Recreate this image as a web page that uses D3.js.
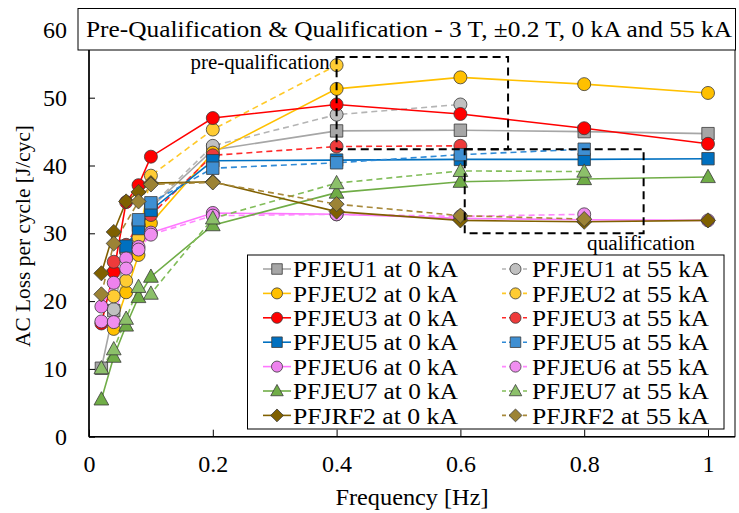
<!DOCTYPE html>
<html><head><meta charset="utf-8">
<script src="https://cdn.jsdelivr.net/npm/d3@7"></script>
<style>
body{margin:0;background:#fff}
svg{display:block}
</style>
</head><body>
<svg id="c" width="739" height="513" font-family="Liberation Serif"></svg>
<script>
// ---- data ----
const freq = [0.02, 0.04, 0.06, 0.08, 0.1, 0.2, 0.4, 0.6, 0.8, 1];
const pfjeu1_0  = [10.1, 18.6, 27.8, 31.2, 33.8, 42.3, 45.1, 45.2, 45.0, 44.7];
const pfjeu1_55 = [null, 18.8, 27.5, 31.5, 34.0, 42.9, 47.5, 49.0, null, null];
const pfjeu2_0  = [null, 15.9, 21.3, 26.8, 31.5, 41.9, 51.3, 53.0, 52.0, 50.7];
const pfjeu2_55 = [null, 20.7, 23.0, 29.4, 38.5, 45.3, 54.8, null, null, null];
const pfjeu3_0  = [16.7, 24.3, 34.6, 37.1, 41.3, 47.0, 49.0, 47.6, 45.5, 43.2];
const pfjeu3_55 = [null, 25.8, 28.3, 31.3, 32.7, 41.5, 42.8, 42.9, null, null];
const pfjeu5_0  = [null, null, 28.1, 30.7, 33.4, 40.7, 40.8, 40.9, 40.9, 41.0];
const pfjeu5_55 = [null, null, null, 32.0, 34.5, 39.6, 40.4, 41.6, 42.4, null];
const pfjeu6_0  = [19.2, 22.7, 26.3, 28.0, 30.1, 33.0, 32.8, 32.2, 32.0, 31.9];
const pfjeu6_55 = [17.0, 16.9, 24.8, 27.6, 29.8, 32.6, 32.8, 32.5, 32.8, null];
const pfjeu7_0  = [5.5, 11.8, 16.4, 20.6, 23.6, 31.2, 36.0, 37.6, 38.0, 38.3];
const pfjeu7_55 = [10.1, 12.9, 17.4, 22.1, 21.1, 32.2, 37.4, 39.2, 39.1, null];
const pfjrf2_0  = [24.1, 30.2, 34.7, 36.1, 37.4, 37.6, 33.2, 31.9, 31.7, 31.9];
const pfjrf2_55 = [21.0, 28.5, null, 34.7, 37.2, 37.5, 34.3, 32.6, 32.1, null];

const seriesNames = ["PFJEU1 at 0 kA","PFJEU1 at 55 kA","PFJEU2 at 0 kA","PFJEU2 at 55 kA",
  "PFJEU3 at 0 kA","PFJEU3 at 55 kA","PFJEU5 at 0 kA","PFJEU5 at 55 kA",
  "PFJEU6 at 0 kA","PFJEU6 at 55 kA","PFJEU7 at 0 kA","PFJEU7 at 55 kA",
  "PFJRF2 at 0 kA","PFJRF2 at 55 kA"];
const seriesValues = [pfjeu1_0,pfjeu1_55,pfjeu2_0,pfjeu2_55,pfjeu3_0,pfjeu3_55,pfjeu5_0,pfjeu5_55,
  pfjeu6_0,pfjeu6_55,pfjeu7_0,pfjeu7_55,pfjrf2_0,pfjrf2_55];
const xTicks = [0, 0.2, 0.4, 0.6, 0.8, 1];
const xTickLabels = ["0","0.2","0.4","0.6","0.8","1"];
const yTicks = [0, 10, 20, 30, 40, 50, 60];
const titleText = "Pre-Qualification & Qualification  - 3 T, \u00B10.2 T, 0 kA and 55 kA";
const xTitle = "Frequency [Hz]";
const yTitle = "AC Loss per cycle [J/cyc]";
const preQualBox = {x0: 0.4, x1: 0.677, y0: 42.4, y1: 56};
const qualBox = {x0: 0.607, x1: 0.896, y0: 30.0, y1: 42.4};

// ---- styles ----
const FONT = "Liberation Serif";
const styles = [
  {shape:"square",  fill:"#a6a6a6", line:"#a6a6a6", dash:false},
  {shape:"circle",  fill:"#c0c0c0", line:"#b4b4b4", dash:true},
  {shape:"circle",  fill:"#ffc000", line:"#ffc000", dash:false},
  {shape:"circle",  fill:"#ffcc33", line:"#ffc929", dash:true},
  {shape:"circle",  fill:"#ff0000", line:"#ff0000", dash:false},
  {shape:"circle",  fill:"#ee3b3b", line:"#ff2a2a", dash:true},
  {shape:"square",  fill:"#0070c0", line:"#0070c0", dash:false},
  {shape:"square",  fill:"#3f8fd2", line:"#2f8ad6", dash:true},
  {shape:"circle",  fill:"#ee82ee", line:"#ff77ff", dash:false},
  {shape:"circle",  fill:"#f08ef0", line:"#ff88ff", dash:true},
  {shape:"triangle",fill:"#70ad47", line:"#70ad47", dash:false},
  {shape:"triangle",fill:"#8cc06a", line:"#82bd5a", dash:true},
  {shape:"diamond", fill:"#7f6000", line:"#806000", dash:false},
  {shape:"diamond", fill:"#9c8335", line:"#a8893a", dash:true}
];

const svg = d3.select("#c");
const x = d3.scaleLinear().domain([0, 1]).range([89, 708]);
const y = d3.scaleLinear().domain([0, 60]).range([436.7, 29.9]);
const xRight = 735;

function markerPath(shape, r) {
  const p = d3.path();
  if (shape === "circle") { p.arc(0, 0, r, 0, 2*Math.PI); }
  else if (shape === "square") { p.rect(-r, -r, 2*r, 2*r); }
  else if (shape === "triangle") {
    const h = r*1.9;
    p.moveTo(0, -h*0.58); p.lineTo(r*1.05, h*0.42); p.lineTo(-r*1.05, h*0.42); p.closePath();
  } else if (shape === "diamond") {
    const d = r*1.08;
    p.moveTo(0, -d); p.lineTo(d, 0); p.lineTo(0, d); p.lineTo(-d, 0); p.closePath();
  }
  return p.toString();
}
const markerR = {circle: 6.5, square: 6.2, triangle: 7, diamond: 7};

// plot frame
svg.append("rect").attr("x", x(0)).attr("y", y(60)).attr("width", xRight - x(0)).attr("height", y(0) - y(60))
  .attr("fill", "none").attr("stroke", "#000").attr("stroke-width", 1);

// lines
const lineGen = d3.line().x(d => x(d[0])).y(d => y(d[1]));
const gLines = svg.append("g");
const gMarks = svg.append("g");
seriesValues.forEach((vals, i) => {
  const st = styles[i];
  const pts = freq.map((f, j) => [f, vals[j]]).filter(d => d[1] !== null);
  gLines.append("path").datum(pts).attr("d", lineGen).attr("fill", "none")
    .attr("stroke", st.line).attr("stroke-width", 1.6)
    .attr("stroke-dasharray", st.dash ? "6,4" : null);
});
seriesValues.forEach((vals, i) => {
  const st = styles[i];
  const pts = freq.map((f, j) => [f, vals[j]]).filter(d => d[1] !== null);
  gMarks.selectAll(null).data(pts).enter().append("path")
    .attr("transform", d => `translate(${x(d[0])},${y(d[1])})`)
    .attr("d", markerPath(st.shape, markerR[st.shape]))
    .attr("fill", st.fill).attr("stroke", "#3a3a3a").attr("stroke-width", 0.8);
});

// dashed boxes
[preQualBox, qualBox].forEach(b => {
  svg.append("rect").attr("x", x(b.x0)).attr("y", y(b.y1))
    .attr("width", x(b.x1) - x(b.x0)).attr("height", y(b.y0) - y(b.y1))
    .attr("fill", "none").attr("stroke", "#000").attr("stroke-width", 2)
    .attr("stroke-dasharray", "8,5");
});
svg.append("text").attr("font-family", FONT).attr("x", x(0.4) - 7).attr("y", 69).attr("text-anchor", "end")
  .attr("font-size", 20).attr("textLength", 139).attr("lengthAdjust", "spacingAndGlyphs")
  .text("pre-qualification");
svg.append("text").attr("font-family", FONT).attr("x", 587).attr("y", 250)
  .attr("font-size", 20).attr("textLength", 108).attr("lengthAdjust", "spacingAndGlyphs")
  .text("qualification");

// axes
const xAxis = d3.axisBottom(x).tickValues(xTicks).tickSize(-7).tickFormat((d, i) => xTickLabels[i]).tickPadding(18);
const gx = svg.append("g").attr("transform", `translate(0,${y(0)})`).call(xAxis);
gx.attr("font-family", FONT);
gx.select(".domain").remove();
gx.selectAll(".tick line").attr("stroke", "#000").attr("stroke-width", 1);
gx.selectAll("text").attr("font-family", FONT).attr("font-size", 24).attr("fill", "#000").attr("dy", "0.71em");

const yAxis = d3.axisLeft(y).tickValues(yTicks).tickSize(-6).tickPadding(22);
const gy = svg.append("g").attr("transform", `translate(${x(0)},0)`).call(yAxis);
gy.attr("font-family", FONT);
gy.select(".domain").remove();
gy.selectAll(".tick line").attr("stroke", "#000").attr("stroke-width", 1);
gy.selectAll("text").attr("font-family", FONT).attr("font-size", 24).attr("fill", "#000");

svg.append("line").attr("x1", x(0)).attr("x2", xRight).attr("y1", y(0)).attr("y2", y(0))
  .attr("stroke", "#000").attr("stroke-width", 1.5);
svg.append("line").attr("x1", x(0)).attr("x2", x(0)).attr("y1", y(0)).attr("y2", y(60))
  .attr("stroke", "#000").attr("stroke-width", 1.5);

// axis titles
svg.append("text").attr("font-family", FONT).attr("x", 412).attr("y", 505).attr("text-anchor", "middle")
  .attr("font-size", 24).attr("textLength", 153).attr("lengthAdjust", "spacingAndGlyphs").text(xTitle);
svg.append("text").attr("font-family", FONT).attr("transform", "translate(30,236) rotate(-90)").attr("text-anchor", "middle")
  .attr("font-size", 22).attr("textLength", 222).attr("lengthAdjust", "spacingAndGlyphs").text(yTitle);

// title box
svg.append("rect").attr("x", 78).attr("y", 8.5).attr("width", 657.5).attr("height", 41.5)
  .attr("fill", "#fff").attr("stroke", "#000").attr("stroke-width", 1);
svg.append("text").attr("font-family", FONT).attr("x", 409).attr("y", 37).attr("text-anchor", "middle")
  .attr("font-size", 23).attr("textLength", 646).attr("lengthAdjust", "spacingAndGlyphs").text(titleText);

// legend
const leg = svg.append("g");
leg.append("rect").attr("x", 247.5).attr("y", 255).attr("width", 476.5).attr("height", 174)
  .attr("fill", "#fff").attr("stroke", "#000").attr("stroke-width", 1);
seriesNames.forEach((name, i) => {
  const st = styles[i];
  const col = i % 2, row = Math.floor(i / 2);
  const cy = 269 + row * 24.4;
  const lx0 = col === 0 ? 263 : 502, lx1 = col === 0 ? 291 : 529, mx = (lx0 + lx1) / 2;
  const tx = col === 0 ? 293 : 532;
  leg.append("line").attr("x1", lx0).attr("x2", lx1).attr("y1", cy).attr("y2", cy)
    .attr("stroke", st.line).attr("stroke-width", 1.6).attr("stroke-dasharray", st.dash ? "4,3" : null);
  leg.append("path").attr("transform", `translate(${mx},${cy})`)
    .attr("d", markerPath(st.shape, markerR[st.shape] * 0.85))
    .attr("fill", st.fill).attr("stroke", "#3a3a3a").attr("stroke-width", 0.8);
  leg.append("text").attr("font-family", FONT).attr("x", tx).attr("y", cy).attr("dy", "0.34em")
    .attr("font-size", 24).attr("textLength", name.includes("55") ? 177 : 165)
    .attr("lengthAdjust", "spacingAndGlyphs").text(name);
});
</script>
</body></html>
